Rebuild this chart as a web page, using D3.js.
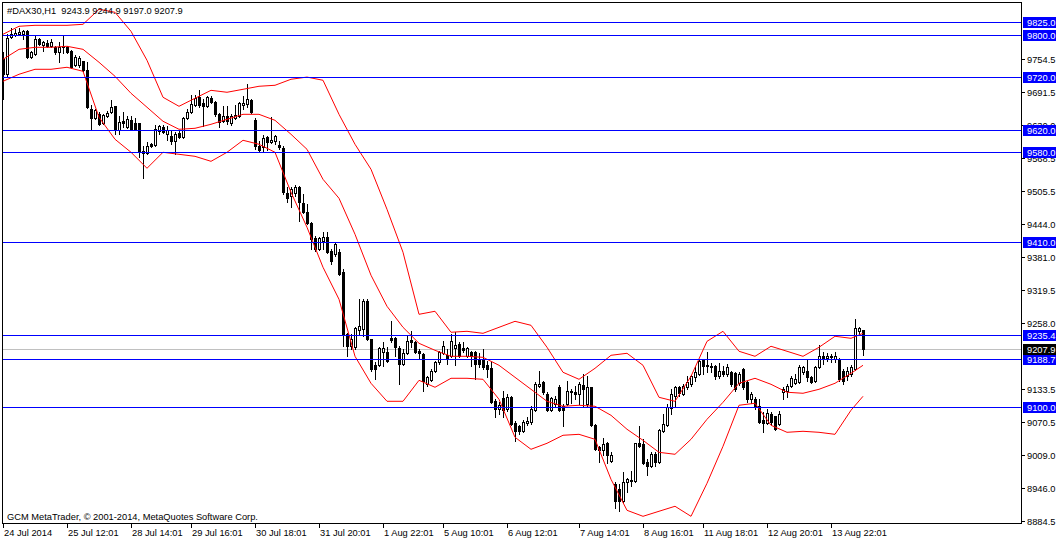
<!DOCTYPE html>
<html><head><meta charset="utf-8">
<script src="https://cdn.jsdelivr.net/npm/d3@7"></script>
<style>
html,body{margin:0;padding:0;background:#fff;}
svg{display:block;}
text{font-family:'Liberation Sans',Arial,sans-serif;font-size:9.3px;fill:#000;}
</style></head><body>
<svg id="c" width="1061" height="542"></svg>
<script>
// ---- DATA ----
const opens=[9754.0,9725.8,9795.4,9799.2,9801.1,9801.1,9806.7,9757.8,9763.4,9791.7,
9780.4,9784.1,9778.5,9776.6,9767.2,9776.6,9776.6,9769.1,9742.7,9742.7,
9750.2,9733.3,9659.9,9642.9,9650.4,9633.5,9646.7,9654.2,9665.5,9620.3,
9637.3,9626.0,9639.1,9633.5,9633.5,9580.8,9577.0,9594.0,9592.1,9618.4,
9626.0,9612.8,9609.0,9599.6,9614.7,9607.2,9642.9,9654.2,9667.4,9682.5,
9671.2,9665.5,9680.6,9673.1,9650.4,9637.3,9646.7,9633.5,9642.9,9646.7,
9667.4,9669.3,9676.8,9639.1,9590.2,9588.3,9607.2,9597.7,9599.6,9592.1,
9586.4,9501.7,9496.0,9501.7,9513.0,9482.8,9465.9,9445.2,9416.9,9396.2,
9411.3,9418.8,9392.5,9386.8,9390.6,9352.9,9236.1,9213.6,9211.7,9243.7,
9245.6,9298.3,9226.7,9177.8,9177.8,9202.3,9202.3,9228.6,9228.6,9209.8,
9179.7,9200.4,9224.9,9221.1,9204.2,9198.5,9142.0,9149.5,9166.5,9183.4,
9200.4,9196.6,9194.7,9209.8,9217.3,9209.8,9194.7,9202.3,9202.3,9189.1,
9189.1,9177.8,9172.1,9110.0,9094.9,9115.7,9094.9,9117.5,9068.6,9062.9,
9053.5,9068.6,9070.5,9093.1,9138.2,9145.8,9123.2,9093.1,9104.4,9136.4,
9100.6,9104.4,9127.0,9127.0,9123.2,9140.1,9104.4,9136.4,9064.8,9023.4,
9017.7,9030.9,8997.0,8953.7,8944.3,8921.6,8957.5,8959.4,8959.4,9030.9,
9029.0,8995.1,8987.6,9010.2,8995.1,9053.5,9064.8,9096.8,9119.4,9136.4,
9123.2,9136.4,9142.0,9155.2,9160.8,9187.2,9177.8,9175.9,9175.9,9157.1,
9166.5,9160.8,9164.6,9162.7,9143.9,9170.3,9145.8,9113.8,9113.8,9100.6,
9074.2,9068.6,9085.5,9081.8,9066.7,9127.0,9128.8,9138.2,9143.9,9145.8,
9164.6,9166.5,9155.2,9147.7,9174.0,9194.7,9191.0,9194.7,9189.1,9189.1,
9166.5,9157.1,9160.8,9170.3,9241.8,9243.9];
const highs=[9767.2,9801.1,9812.4,9810.5,9812.4,9808.6,9808.6,9769.1,9799.2,9793.6,
9787.9,9789.8,9791.7,9778.5,9786.0,9797.3,9778.5,9771.0,9761.5,9759.7,
9750.2,9748.4,9667.4,9659.9,9654.2,9650.4,9656.1,9676.8,9665.5,9646.7,
9654.2,9646.7,9646.7,9642.9,9633.5,9590.2,9597.7,9595.8,9629.7,9629.7,
9629.7,9627.8,9618.4,9616.6,9618.4,9644.8,9659.9,9686.2,9686.2,9695.6,
9678.7,9684.4,9684.4,9675.0,9652.3,9665.5,9665.5,9650.4,9667.4,9673.1,
9684.4,9706.9,9678.7,9642.9,9599.6,9610.9,9609.0,9644.8,9610.9,9599.6,
9590.2,9513.0,9513.0,9516.7,9514.9,9499.8,9480.9,9447.0,9420.7,9418.8,
9428.2,9428.2,9396.2,9409.4,9396.2,9358.6,9238.0,9236.1,9249.3,9302.1,
9302.1,9302.1,9226.7,9183.4,9211.7,9221.1,9211.7,9260.6,9230.5,9213.6,
9207.9,9232.4,9241.8,9222.9,9207.9,9200.4,9157.1,9170.3,9185.3,9204.2,
9222.9,9207.9,9236.1,9239.9,9221.1,9221.1,9211.7,9204.2,9204.2,9200.4,
9207.9,9185.3,9183.4,9113.8,9108.1,9128.8,9123.2,9119.4,9072.4,9064.8,
9074.2,9079.9,9100.6,9145.8,9166.5,9147.7,9127.0,9117.5,9119.4,9140.1,
9104.4,9147.7,9132.6,9138.2,9145.8,9160.8,9157.1,9136.4,9066.7,9025.3,
9040.3,9032.8,9014.0,8957.5,8953.7,8976.3,8965.0,8978.2,9030.9,9062.9,
9038.4,9000.8,9014.0,9014.0,9057.3,9085.5,9104.4,9132.6,9138.2,9138.2,
9142.0,9157.1,9159.0,9174.0,9189.1,9189.1,9202.3,9181.6,9177.8,9181.6,
9175.9,9179.7,9166.5,9164.6,9164.6,9172.1,9147.7,9127.0,9117.5,9113.8,
9089.3,9094.9,9089.3,9081.8,9091.2,9136.4,9142.0,9157.1,9160.8,9177.8,
9175.9,9189.1,9157.1,9175.9,9215.5,9202.3,9200.4,9198.5,9202.3,9191.0,
9170.3,9174.0,9177.8,9264.4,9249.3,9244.9];
const lows=[9678.7,9722.0,9793.6,9797.3,9799.2,9791.7,9755.9,9755.9,9761.5,9780.4,
9769.1,9776.6,9776.6,9763.4,9748.4,9765.3,9765.3,9737.1,9740.8,9739.0,
9731.4,9661.8,9622.2,9641.0,9629.7,9631.6,9644.8,9652.3,9612.8,9612.8,
9626.0,9624.1,9620.3,9620.3,9569.5,9529.9,9575.1,9588.3,9590.2,9612.8,
9614.7,9601.5,9594.0,9575.1,9605.3,9605.3,9641.0,9652.3,9665.5,9663.7,
9627.8,9663.7,9671.2,9646.7,9626.0,9635.4,9631.6,9629.7,9641.0,9644.8,
9659.9,9663.7,9652.3,9584.5,9580.8,9580.8,9582.7,9595.8,9594.0,9584.5,
9499.8,9484.7,9475.3,9496.0,9448.9,9464.0,9443.3,9396.2,9392.5,9394.3,
9396.2,9388.7,9368.0,9383.0,9347.3,9213.6,9194.7,9207.9,9207.9,9234.3,
9232.4,9224.9,9166.5,9151.4,9175.9,9175.9,9183.4,9221.1,9194.7,9142.0,
9177.8,9198.5,9211.7,9200.4,9189.1,9128.8,9138.2,9147.7,9164.6,9179.7,
9198.5,9179.7,9192.8,9177.8,9192.8,9202.3,9192.8,9175.9,9151.4,9174.0,
9170.3,9155.2,9106.3,9079.9,9085.5,9079.9,9091.2,9064.8,9034.7,9047.8,
9051.6,9064.8,9066.7,9091.2,9136.4,9123.2,9091.2,9091.2,9100.6,9091.2,
9062.9,9102.5,9106.3,9113.8,9104.4,9100.6,9100.6,9062.9,9017.7,8995.1,
9008.3,8993.2,8995.1,8908.5,8902.9,8919.8,8938.6,8950.0,8957.5,9023.4,
8991.4,8970.6,8985.7,8987.6,8993.2,9051.6,9062.9,9085.5,9100.6,9119.4,
9121.3,9132.6,9138.2,9147.7,9159.0,9160.8,9164.6,9164.6,9151.4,9153.3,
9157.1,9157.1,9138.2,9128.8,9140.1,9132.6,9108.1,9106.3,9094.9,9068.6,
9051.6,9066.7,9064.8,9055.4,9064.8,9113.8,9117.5,9136.4,9142.0,9143.9,
9160.8,9147.7,9143.9,9145.8,9172.1,9179.7,9185.3,9183.4,9183.4,9147.7,
9142.0,9149.5,9157.1,9168.4,9236.1,9197.0];
const closes=[9725.8,9793.6,9801.1,9803.0,9804.9,9806.7,9757.8,9767.2,9791.7,9782.3,
9786.0,9778.5,9786.0,9767.2,9776.6,9778.5,9767.2,9739.0,9757.8,9755.9,
9733.3,9663.6,9642.9,9658.0,9631.6,9648.5,9652.3,9663.7,9620.3,9635.4,
9633.5,9641.0,9622.2,9622.2,9578.9,9577.0,9590.2,9590.2,9622.2,9627.8,
9616.6,9620.3,9599.6,9612.8,9607.2,9642.9,9654.2,9669.3,9680.6,9667.4,
9665.5,9682.5,9673.1,9650.4,9635.4,9646.7,9637.3,9646.7,9648.5,9671.2,
9671.2,9678.7,9654.2,9590.2,9582.7,9605.3,9597.7,9601.5,9609.0,9588.3,
9503.6,9492.3,9509.2,9513.0,9484.7,9465.9,9445.2,9415.1,9396.2,9416.9,
9418.8,9390.6,9373.6,9405.6,9349.1,9236.1,9213.6,9226.7,9247.5,9251.2,
9298.3,9226.7,9170.3,9170.3,9209.8,9209.8,9185.3,9224.9,9211.7,9179.7,
9200.4,9222.9,9221.1,9202.3,9200.4,9147.7,9155.2,9166.5,9183.4,9202.3,
9213.6,9191.0,9222.9,9215.5,9194.7,9206.0,9209.8,9194.7,9179.7,9179.7,
9174.0,9170.3,9108.1,9094.9,9102.5,9093.1,9117.5,9066.7,9053.5,9053.5,
9070.5,9072.4,9094.9,9142.0,9142.0,9127.0,9093.1,9115.7,9113.8,9093.1,
9093.1,9128.8,9128.8,9123.2,9142.0,9132.6,9136.4,9064.8,9019.6,9017.7,
9029.0,9008.3,9008.3,8921.6,8921.6,8957.5,8963.1,8961.2,9030.9,9025.3,
8993.2,8987.6,9010.2,8995.1,9055.4,9066.7,9098.7,9123.2,9136.4,9125.1,
9138.2,9145.8,9157.1,9164.6,9185.3,9175.9,9175.9,9174.0,9157.1,9166.5,
9160.8,9174.0,9142.0,9132.6,9160.8,9136.4,9113.8,9123.2,9100.6,9070.5,
9068.6,9087.4,9070.5,9057.3,9085.5,9132.6,9138.2,9153.3,9151.4,9174.0,
9174.0,9155.2,9145.8,9174.0,9194.7,9189.1,9194.7,9192.8,9194.7,9151.4,
9147.7,9166.5,9174.0,9247.5,9247.5,9207.9];

// Bollinger band readings (bar index -> price)
const bandIdx=[0,4,8,12,16,20,24,28,32,36,40,44,48,52,56,60,64,68,72,76,80,84,88,92,96,100,
104,108,112,116,120,124,128,132,136,140,144,148,152,156,160,164,168,172,176,180,184,188,192,196,200,204,208,212,215];
const bandUpper=[9801.1,9816.2,9818.0,9818.0,9818.0,9819.9,9848.2,9842.5,9806.7,9752.1,
9682.5,9665.5,9680.6,9695.6,9691.9,9697.5,9703.2,9705.1,9716.4,9720.5,
9714.5,9650.4,9594.0,9546.9,9471.5,9390.6,9273.8,9279.5,9240.0,9241.8,
9238.0,9249.3,9260.6,9253.1,9211.7,9164.6,9151.4,9172.1,9196.6,9200.4,
9177.8,9117.5,9110.0,9157.1,9222.9,9241.8,9204.2,9194.7,9213.6,9204.2,
9194.7,9211.7,9232.4,9228.6,9238.0];
const bandMiddle=[9754.0,9772.8,9776.6,9776.6,9778.5,9772.8,9748.4,9722.0,9690.0,9663.7,
9637.3,9622.2,9624.1,9631.6,9641.0,9650.4,9650.4,9639.1,9612.8,9584.5,
9528.0,9492.3,9424.5,9347.3,9288.9,9249.3,9219.2,9206.0,9194.7,9194.7,
9192.8,9177.8,9155.2,9132.6,9110.0,9100.6,9102.5,9100.6,9083.6,9057.3,
9036.5,9013.9,9010.2,9038.4,9076.1,9108.1,9143.9,9153.3,9142.0,9127.0,
9125.1,9132.6,9143.9,9162.7,9177.8];
const bandLower=[9712.6,9725.8,9735.2,9735.2,9739.0,9731.4,9644.8,9603.4,9578.9,9548.8,
9578.9,9575.1,9571.3,9561.9,9578.9,9601.5,9594.0,9578.9,9503.6,9437.7,
9362.4,9302.1,9194.7,9143.9,9110.0,9110.0,9149.5,9136.4,9153.3,9153.3,
9151.4,9113.8,9042.2,9019.6,9030.9,9046.0,9047.8,9038.4,8963.1,8904.7,
8893.4,8902.9,8912.3,8893.4,8955.6,9025.3,9102.5,9106.3,9064.8,9051.6,
9053.5,9051.6,9047.8,9093.1,9119.4];

const levelValues=[9825.0,9800.0,9720.0,9620.0,9580.0,9410.0,9235.4,9188.7,9100.0];
const bidPrice=9207.9;
const priceTicks=[9754.5,9691.5,9630.0,9568.5,9505.5,9444.0,9381.0,9319.5,9258.0,9133.5,9070.5,9009.0,8946.0,8884.5];
const timeLabels=["24 Jul 2014","25 Jul 12:01","28 Jul 14:01","29 Jul 16:01","30 Jul 18:01","31 Jul 20:01","1 Aug 22:01","5 Aug 10:01","6 Aug 12:01","7 Aug 14:01","8 Aug 16:01","11 Aug 18:01","12 Aug 20:01","13 Aug 22:01"];
const timeTickIdx=[0,16,32,47,63,79,95,110,126,144,160,175,191,207];
const headerText="#DAX30,H1  9243.9 9244.9 9197.0 9207.9";
const copyrightText="GCM MetaTrader, \u00A9 2001-2014, MetaQuotes Software Corp.";

// ---- DRAW ----
const svg=d3.select('#c');
const P={l:2,r:1021,t:2,b:523};
const y=d3.scaleLinear().domain([9825,9100]).range([21.6,406.6]);
const x=d3.scaleLinear().domain([0,215]).range([3,863]);
const py=v=>Math.round(y(v));

svg.append('rect').attr('width',1061).attr('height',542).attr('fill','#fff');
svg.append('defs').append('clipPath').attr('id','clip').append('rect')
  .attr('x',P.l+1).attr('y',P.t+1).attr('width',P.r-P.l-1).attr('height',P.b-P.t-1);

const plot=svg.append('g').attr('clip-path','url(#clip)');

// bid line
plot.append('rect').attr('x',P.l+1).attr('width',P.r-P.l-1).attr('y',py(bidPrice)).attr('height',1)
  .attr('fill','#c0c0c0').attr('shape-rendering','crispEdges');

// candles
const candles=opens.map((o,i)=>({i,o,h:highs[i],l:lows[i],c:closes[i]}));
const cg=plot.append('g').attr('shape-rendering','crispEdges');
cg.selectAll('rect.wick').data(candles).join('rect').attr('class','wick')
  .attr('x',d=>Math.round(x(d.i))).attr('width',1)
  .attr('y',d=>py(d.h)).attr('height',d=>py(d.l)-py(d.h)+1).attr('fill','#000');
cg.selectAll('rect.bear').data(candles.filter(d=>d.c<d.o)).join('rect').attr('class','bear')
  .attr('x',d=>Math.round(x(d.i))-1).attr('y',d=>py(d.o))
  .attr('width',3).attr('height',d=>Math.max(1,py(d.c)-py(d.o)+1)).attr('fill','#000');
cg.selectAll('rect.bull').data(candles.filter(d=>d.c>=d.o)).join('rect').attr('class','bull')
  .attr('x',d=>Math.round(x(d.i))-0.5).attr('y',d=>py(d.c)+0.5)
  .attr('width',2).attr('height',d=>Math.max(0,py(d.o)-py(d.c)))
  .attr('fill','#fff').attr('stroke','#000');

// bands
const line=d3.line().x(d=>x(d[0])).y(d=>y(d[1]));
[bandUpper,bandMiddle,bandLower].forEach(b=>{
  plot.append('path').datum(bandIdx.map((k,j)=>[k,b[j]])).attr('d',line)
    .attr('fill','none').attr('stroke','#ff0000').attr('stroke-width',1);
});

// level lines (1px blue)
plot.selectAll('rect.lvl').data(levelValues).join('rect').attr('class','lvl')
  .attr('x',P.l+1).attr('width',P.r-P.l-1).attr('y',d=>py(d)).attr('height',1)
  .attr('fill','#0000ff').attr('shape-rendering','crispEdges');

// frame
svg.append('path').attr('d',`M${P.l+0.5},${P.t+0.5}H${P.r+0.5}V${P.b+0.5}H${P.l+0.5}Z`)
  .attr('fill','none').attr('stroke','#000').attr('shape-rendering','crispEdges');

// header / copyright
svg.append('text').attr('x',7).attr('y',14).attr('xml:space','preserve').style('white-space','pre').text(headerText);
svg.append('text').attr('x',7).attr('y',520).text(copyrightText);

// right axis
const ax=svg.append('g');
ax.selectAll('rect.tk').data(priceTicks).join('rect').attr('class','tk')
  .attr('x',P.r+1).attr('width',3).attr('y',d=>py(d)).attr('height',1)
  .attr('fill','#000').attr('shape-rendering','crispEdges');
ax.selectAll('text.tl').data(priceTicks).join('text').attr('class','tl')
  .attr('x',1027).attr('y',d=>py(d)+4).text(d=>d.toFixed(1));
const lb=ax.selectAll('g.lb').data(levelValues).join('g').attr('class','lb');
lb.append('rect').attr('x',1023).attr('y',d=>py(d)-5).attr('width',33).attr('height',11).attr('fill','#0000ff');
lb.append('text').attr('x',1027).attr('y',d=>py(d)+4).style('fill','#fff').text(d=>d.toFixed(1));
const bb=ax.append('g');
bb.append('rect').attr('x',1023).attr('y',py(bidPrice)-5).attr('width',33).attr('height',11).attr('fill','#000');
bb.append('text').attr('x',1027).attr('y',py(bidPrice)+4).style('fill','#fff').text(bidPrice.toFixed(1));

// bottom axis
const bx=svg.append('g');
bx.selectAll('rect').data(timeTickIdx).join('rect')
  .attr('x',d=>Math.round(x(d))).attr('width',1)
  .attr('y',P.b+1).attr('height',4).attr('fill','#000').attr('shape-rendering','crispEdges');
bx.selectAll('text').data(timeTickIdx).join('text')
  .attr('x',d=>Math.round(x(d))+1).attr('y',536).text((d,j)=>timeLabels[j]);
</script>
</body></html>
